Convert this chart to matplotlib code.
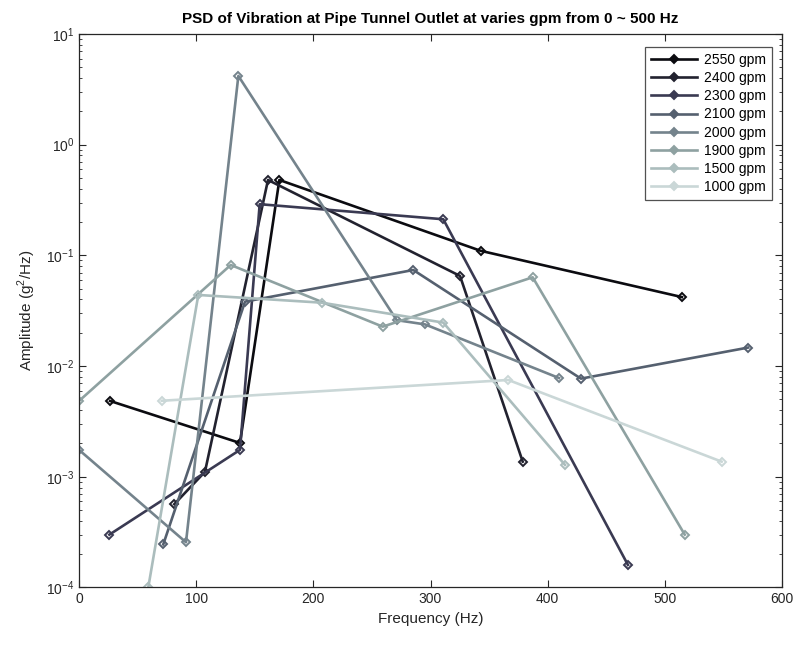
import matplotlib
matplotlib.use("Agg")
import matplotlib.pyplot as plt
import numpy as np
from matplotlib.ticker import LogLocator, NullFormatter, MultipleLocator

plt.rcParams['font.family'] = ['Liberation Sans', 'DejaVu Sans']
plt.rcParams['mathtext.fontset'] = 'custom'
plt.rcParams['mathtext.rm'] = 'Liberation Sans'

labels = ["2550 gpm", "2400 gpm", "2300 gpm", "2100 gpm",
          "2000 gpm", "1900 gpm", "1500 gpm", "1000 gpm"]

f_2550 = [26.5, 137.4, 171.0, 342.8, 514.6]
a_2550 = [0.00484, 0.00202, 0.48, 0.110, 0.042]

f_2400 = [81.3, 107.5, 161.3, 325.2, 378.7]
a_2400 = [0.000565, 0.00111, 0.48, 0.0652, 0.00137]

f_2300 = [25.9, 137.4, 154.2, 310.9, 468.5]
a_2300 = [0.00030, 0.00175, 0.29, 0.212, 0.00016]

f_2100 = [71.9, 141.7, 285.3, 428.4, 571.2]
a_2100 = [0.000245, 0.0382, 0.0738, 0.0077, 0.0147]

f_2000 = [0.0, 91.3, 136.0, 271.1, 295.3, 409.7]
a_2000 = [0.00175, 0.000256, 4.18, 0.026, 0.0238, 0.0078]

f_1900 = [0.0, 129.5, 259.2, 387.2, 517.0]
a_1900 = [0.00484, 0.0819, 0.0227, 0.0634, 0.00030]

f_1500 = [59.1, 101.8, 207.1, 310.9, 414.8]
a_1500 = [0.00010, 0.0439, 0.0374, 0.0247, 0.00128]

f_1000 = [70.6, 366.4, 548.5]
a_1000 = [0.00486, 0.00749, 0.00137]

freqs = [f_2550, f_2400, f_2300, f_2100, f_2000, f_1900, f_1500, f_1000]
amps = [a_2550, a_2400, a_2300, a_2100, a_2000, a_1900, a_1500, a_1000]

colors = ["#0b0b10", "#22222f", "#3a3a52", "#55606f", "#74838c",
          "#8ea1a1", "#abbdbd", "#cad7d7"]

fig = plt.figure(figsize=(7.99, 6.46), dpi=100)
ax = fig.add_axes([0.0989, 0.0906, 0.8798, 0.8568])

for f, a, c, lab in zip(freqs, amps, colors, labels):
    ax.semilogy(f, a, '-', color=c, lw=1.9, marker='D', ms=4.2,
                mfc='none', mec=c, mew=1.4, label=lab)

ax.set_xlim(0, 600)
ax.set_ylim(1e-4, 1e1)
ax.xaxis.set_major_locator(MultipleLocator(100))
ax.yaxis.set_major_locator(LogLocator(base=10, numticks=10))
ax.yaxis.set_minor_locator(LogLocator(base=10, subs=np.arange(2, 10), numticks=20))
ax.yaxis.set_minor_formatter(NullFormatter())
ax.tick_params(which='both', direction='in', top=True, right=True,
               labelsize=10, colors='#262626')
ax.tick_params(which='major', length=5)
ax.tick_params(which='minor', length=2.5)
for s in ax.spines.values():
    s.set_color('#262626')
    s.set_linewidth(0.9)

ax.set_xlabel("Frequency (Hz)", fontsize=11, color='#262626')
ax.set_ylabel("Amplitude (g$^2$/Hz)", fontsize=11, color='#262626', labelpad=6)
ax.set_title("PSD of Vibration at Pipe Tunnel Outlet at varies gpm from 0 ~ 500 Hz",
             fontsize=11, fontweight='bold', pad=8)

leg = ax.legend(loc='upper right', bbox_to_anchor=(0.986, 0.977), borderaxespad=0,
                fontsize=10, frameon=True, fancybox=False, handlelength=3.3,
                borderpad=0.45, labelspacing=0.3, handletextpad=0.5)
leg.get_frame().set_edgecolor('#262626')
leg.get_frame().set_linewidth(0.9)
for h in leg.legend_handles:
    h.set_markerfacecolor(h.get_color())

fig.savefig("out.png", dpi=100)
